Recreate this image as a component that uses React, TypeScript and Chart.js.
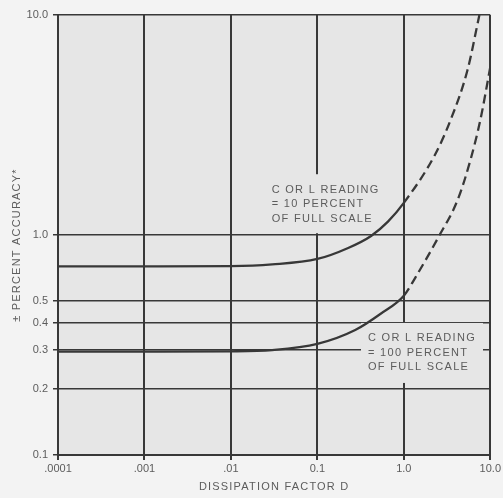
import { useEffect, useRef } from "react";
import { Chart, registerables } from "chart.js";

Chart.register(...registerables);

// Curve: C or L reading = 10 percent of full scale
const upperD = [0.0001, 0.001, 0.01, 0.03, 0.1, 0.227, 0.418, 0.655, 1.0, 2.27, 3.47, 5.45, 7.48];
const upperV = [0.72, 0.72, 0.722, 0.735, 0.778, 0.873, 0.99, 1.15, 1.4, 2.3, 3.33, 5.62, 10];

// Curve: C or L reading = 100 percent of full scale
const lowerD = [0.0001, 0.001, 0.01, 0.03, 0.1, 0.274, 0.545, 1.0, 1.37, 2.52, 4.18, 5.89, 7.67, 10];
const lowerV = [0.295, 0.295, 0.296, 0.3, 0.32, 0.37, 0.44, 0.53, 0.644, 0.98, 1.44, 2.19, 3.33, 5.8];

// dashed beyond this dissipation factor
const dashFrom = 1.0;

const xTickValues = [0.0001, 0.001, 0.01, 0.1, 1, 10];
const xTickLabels = [".0001", ".001", ".01", "0.1", "1.0", "10.0"];
const yTickValues = [0.1, 0.2, 0.3, 0.4, 0.5, 1, 10];
const yTickLabels = ["0.1", "0.2", "0.3", "0.4", "0.5", "1.0", "10.0"];

const xTitle = "DISSIPATION FACTOR D";
const yTitle = "± PERCENT ACCURACY*";

const note10Lines = ["C OR L READING", "= 10 PERCENT", "OF FULL SCALE"];
const note100Lines = ["C OR L READING", "= 100 PERCENT", "OF FULL SCALE"];

const OUTER_BG = "#f3f3f3";
const PLOT_BG = "#e6e6e6";
const INK = "#383838";
const TEXT = "#5c5c5c";
const FONT = "'Liberation Sans', Arial, sans-serif";

// note anchors in data units (left edge of text, vertical centre), box offsets in px
const notes = [
  { lines: note10Lines, d: 0.0296, v: 1.38, box: [-9, -30, 127, 59] },
  { lines: note100Lines, d: 0.385, v: 0.291, box: [-7, -30, 122, 60] },
];

const decorPlugin = {
  id: "decor",
  beforeDraw(chart: any) {
    const { ctx, chartArea: a, width, height } = chart;
    ctx.save();
    ctx.fillStyle = OUTER_BG;
    ctx.fillRect(0, 0, width, height);
    ctx.fillStyle = PLOT_BG;
    ctx.fillRect(a.left, a.top, a.right - a.left, a.bottom - a.top);
    ctx.restore();
  },
  beforeDatasetsDraw(chart: any) {
    const { ctx } = chart;
    const xs = chart.scales.x;
    const ys = chart.scales.y;
    ctx.save();
    notes.forEach((n) => {
      const px = xs.getPixelForValue(n.d);
      const py = ys.getPixelForValue(n.v);
      ctx.fillStyle = PLOT_BG;
      ctx.fillRect(px + n.box[0], py + n.box[1], n.box[2], n.box[3]);
      ctx.fillStyle = TEXT;
      ctx.font = `11px ${FONT}`;
      (ctx as any).letterSpacing = "1.3px";
      ctx.textAlign = "left";
      ctx.textBaseline = "middle";
      const lh = 14.5;
      n.lines.forEach((t, i) => {
        ctx.fillText(t, px, py + (i - 1) * lh);
      });
    });
    ctx.restore();
  },
  afterDraw(chart: any) {
    const { ctx, chartArea: a } = chart;
    ctx.save();
    ctx.fillStyle = TEXT;
    ctx.font = `11px ${FONT}`;
    (ctx as any).letterSpacing = "1.2px";
    ctx.textAlign = "center";
    ctx.textBaseline = "middle";
    ctx.fillText(xTitle, (a.left + a.right) / 2, a.bottom + 32);
    ctx.translate(17, (a.top + a.bottom) / 2 + 10);
    ctx.rotate(-Math.PI / 2);
    ctx.fillText(yTitle, 0, 0);
    ctx.restore();
  },
};

function makeData(ds: number[], vs: number[]) {
  return ds.map((d, i) => ({ x: d, y: vs[i] }));
}

export default function App() {
  const ref = useRef<HTMLCanvasElement | null>(null);

  useEffect(() => {
    if (!ref.current) return;
    const lineStyle = {
      showLine: true,
      borderColor: INK,
      borderWidth: 2.3,
      pointRadius: 0,
      pointHoverRadius: 0,
      cubicInterpolationMode: "monotone" as const,
      fill: false,
      segment: {
        borderDash: (c: any) => (c.p0.parsed.x >= dashFrom ? [9, 5] : undefined),
      },
    };
    const chart = new Chart(ref.current, {
      type: "scatter",
      data: {
        datasets: [
          { label: "10 percent", data: makeData(upperD, upperV), ...lineStyle },
          { label: "100 percent", data: makeData(lowerD, lowerV), ...lineStyle },
        ],
      },
      options: {
        animation: false,
        responsive: true,
        maintainAspectRatio: false,
        layout: { padding: { top: 15, right: 10, left: 0, bottom: 0 } },
        plugins: { legend: { display: false }, tooltip: { enabled: false } },
        scales: {
          x: {
            type: "logarithmic",
            min: 0.0001,
            max: 10,
            afterBuildTicks: (s: any) => {
              s.ticks = xTickValues.map((v) => ({ value: v }));
            },
            afterFit: (s: any) => {
              s.height = 43;
            },
            ticks: {
              autoSkip: false,
              maxRotation: 0,
              padding: 2,
              color: TEXT,
              font: { family: FONT, size: 11 },
              callback: (_v: any, i: number) => xTickLabels[i],
            },
            grid: { color: INK, lineWidth: 2, tickLength: 5, drawTicks: true },
            border: { color: INK, width: 2 },
          },
          y: {
            type: "logarithmic",
            min: 0.1,
            max: 10,
            afterBuildTicks: (s: any) => {
              s.ticks = yTickValues.map((v) => ({ value: v }));
            },
            afterFit: (s: any) => {
              s.width = 58;
            },
            ticks: {
              autoSkip: false,
              padding: 5,
              color: TEXT,
              font: { family: FONT, size: 11 },
              callback: (_v: any, i: number) => yTickLabels[i],
            },
            grid: { color: INK, lineWidth: 1.5, tickLength: 5, drawTicks: true },
            border: { color: INK, width: 2 },
          },
        },
      },
      plugins: [decorPlugin],
    });
    return () => chart.destroy();
  }, []);

  return (
    <div style={{ position: "fixed", left: 0, top: 0, width: 503, height: 498 }}>
      <canvas ref={ref} />
    </div>
  );
}
